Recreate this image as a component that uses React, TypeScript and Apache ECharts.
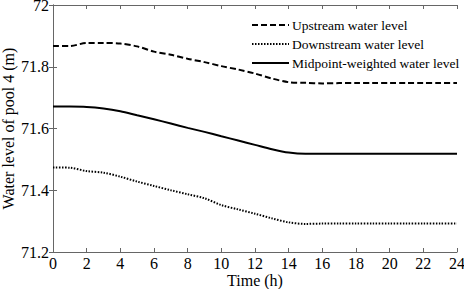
import React, { useEffect, useRef } from "react";
import * as echarts from "echarts";

const times = [0, 1, 2, 3, 4, 5, 6, 7, 8, 9, 10, 11, 12, 13, 14, 15, 16, 17, 18, 19, 20, 21, 22, 23, 24];
const upstream = [71.867, 71.867, 71.877, 71.877, 71.875, 71.866, 71.849, 71.839, 71.826, 71.815, 71.802, 71.791, 71.778, 71.762, 71.750, 71.748, 71.746, 71.747, 71.747, 71.747, 71.747, 71.747, 71.747, 71.747, 71.747];
const downstream = [71.474, 71.473, 71.462, 71.457, 71.444, 71.428, 71.414, 71.400, 71.387, 71.374, 71.352, 71.338, 71.324, 71.309, 71.296, 71.291, 71.292, 71.292, 71.292, 71.292, 71.292, 71.292, 71.292, 71.292, 71.292];
const midpoint = [71.671, 71.671, 71.670, 71.665, 71.656, 71.643, 71.630, 71.616, 71.602, 71.589, 71.575, 71.561, 71.547, 71.533, 71.522, 71.518, 71.518, 71.518, 71.518, 71.518, 71.518, 71.518, 71.518, 71.518, 71.518];

const seriesNames = ["Upstream water level", "Downstream water level", "Midpoint-weighted water level"];
const xTicks = { min: 0, max: 24, interval: 2 };
const yTicks = { min: 71.2, max: 72, interval: 0.2 };

const FONT = "Liberation Serif";
const AXIS_COLOR = "#666";

export default function App() {
  const ref = useRef<HTMLDivElement>(null);
  useEffect(() => {
    if (!ref.current) return;
    const chart = echarts.init(ref.current, null, { renderer: "svg" });
    const pair = (vals: number[]) => times.map((t, i) => [t, vals[i]]);
    const axisLine = { show: true, lineStyle: { color: AXIS_COLOR, width: 1 } };
    const axisTick = { show: true, inside: true, length: 4, lineStyle: { color: AXIS_COLOR } };
    const lineSeries = (name: string, vals: number[], type: any) => ({
      name,
      type: "line",
      data: pair(vals),
      showSymbol: false,
      symbol: "none",
      smooth: 0.3,
      lineStyle: { color: "#000", width: 2, type },
      itemStyle: { color: "#000" },
    });
    chart.setOption({
      animation: false,
      backgroundColor: "#fff",
      textStyle: { fontFamily: FONT },
      grid: { left: 53, right: 7, top: 5, bottom: 37, containLabel: false, outerBoundsMode: "none" },
      legend: {
        orient: "vertical",
        left: 246,
        top: 13,
        itemWidth: 37,
        itemHeight: 12,
        itemGap: 5,
        itemStyle: { opacity: 0 },
        textStyle: { fontFamily: FONT, fontSize: 13.5, color: "#000", padding: [0, 0, 0, -2] },
        data: seriesNames,
      },
      xAxis: [
        {
          type: "value",
          ...xTicks,
          name: "Time (h)",
          nameLocation: "middle",
          nameGap: 21,
          nameMoveOverlap: false,
          nameTextStyle: { fontFamily: FONT, fontSize: 16, lineHeight: 15, color: "#000" },
          axisLine,
          axisTick,
          splitLine: { show: false },
          axisLabel: { fontFamily: FONT, fontSize: 16, lineHeight: 15, color: "#000", margin: 4 },
        },
        {
          type: "value",
          position: "top",
          ...xTicks,
          axisLine,
          axisTick,
          splitLine: { show: false },
          axisLabel: { show: false },
        },
      ],
      yAxis: [
        {
          type: "value",
          ...yTicks,
          name: "Water level of pool 4 (m)",
          nameLocation: "middle",
          nameGap: 37,
          nameMoveOverlap: false,
          nameTextStyle: { fontFamily: FONT, fontSize: 16, color: "#000" },
          axisLine,
          axisTick,
          splitLine: { show: false },
          axisLabel: { fontFamily: FONT, fontSize: 16, lineHeight: 10, color: "#000", margin: 4, formatter: (v: number) => (Math.round(v * 10) / 10).toString() },
        },
        {
          type: "value",
          position: "right",
          ...yTicks,
          axisLine,
          axisTick,
          splitLine: { show: false },
          axisLabel: { show: false },
        },
      ],
      series: [
        lineSeries(seriesNames[0], upstream, [6, 3]),
        lineSeries(seriesNames[1], downstream, [1.5, 1.5]),
        lineSeries(seriesNames[2], midpoint, "solid"),
      ],
    });
    return () => chart.dispose();
  }, []);
  return <div ref={ref} style={{ width: 464, height: 289, position: "absolute", left: 0, top: 0 }} />;
}
